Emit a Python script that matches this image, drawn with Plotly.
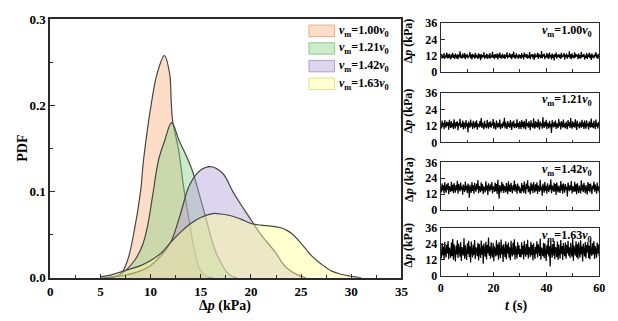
import numpy as np
import plotly.graph_objects as go

# ---------------- data ----------------
series_labels = ["1.00", "1.21", "1.42", "1.63"]

# probability density of pressure difference (kPa)
pdf_x_100 = [6.0, 7.0, 7.7, 8.3, 9.0, 9.3, 10.1, 10.65, 11.37, 11.9, 12.06, 12.2, 12.8, 13.3, 13.9, 14.4, 14.9, 15.5, 16.2]
pdf_y_100 = [0.000, 0.004, 0.020, 0.050, 0.100, 0.137, 0.204, 0.237, 0.258, 0.237, 0.204, 0.182, 0.148, 0.105, 0.063, 0.030, 0.010, 0.002, 0.000]

pdf_x_121 = [5.5, 7.0, 8.4, 9.2, 9.7, 10.2, 10.8, 11.4, 12.1, 12.85, 13.3, 13.8, 14.2, 15.4, 16.5, 17.8, 18.6]
pdf_y_121 = [0.000, 0.004, 0.020, 0.038, 0.060, 0.095, 0.137, 0.159, 0.180, 0.159, 0.148, 0.135, 0.123, 0.074, 0.030, 0.004, 0.000]

pdf_x_142 = [5.0, 7.0, 9.0, 10.0, 11.0, 12.0, 12.9, 13.9, 15.0, 16.0, 17.2, 18.2, 19.0, 19.8, 20.3, 21.0, 22.4, 23.5, 24.7, 25.5]
pdf_y_142 = [0.000, 0.002, 0.008, 0.014, 0.025, 0.041, 0.071, 0.108, 0.125, 0.129, 0.121, 0.100, 0.085, 0.071, 0.062, 0.050, 0.030, 0.012, 0.003, 0.000]

pdf_x_163 = [5.0, 6.0, 7.4, 9.0, 10.0, 11.0, 12.0, 13.0, 14.0, 15.0, 16.2, 17.0, 18.0, 19.0, 20.0, 21.0, 22.0, 23.0, 24.0, 25.0, 26.0, 27.0, 28.0, 29.0, 30.0, 31.0]
pdf_y_163 = [0.001, 0.003, 0.008, 0.014, 0.020, 0.028, 0.041, 0.053, 0.063, 0.070, 0.0745, 0.074, 0.072, 0.068, 0.063, 0.061, 0.060, 0.058, 0.052, 0.040, 0.026, 0.016, 0.008, 0.004, 0.0015, 0.000]

# pressure-difference records (kPa) over 60 s
dp_100 = [11.2, 13.1, 9.8, 12.6, 10.4, 13.8, 9.5, 12.2, 10.9, 14.3, 9.9, 12.8, 10.1, 13.4, 11.0, 9.2, 12.9, 10.6, 14.1, 10.2,
          12.4, 9.6, 13.5, 11.3, 10.0, 13.0, 9.4, 12.7, 10.8, 15.2, 10.3, 12.1, 9.7, 13.6, 11.1, 10.5, 13.9, 9.3, 12.5, 10.7,
          13.2, 9.9, 12.0, 11.4, 14.6, 10.1, 12.8, 9.1, 13.3, 10.9, 12.3, 9.8, 14.0, 10.4, 12.6, 11.2, 9.5, 13.7, 10.6, 12.9,
          8.6, 13.1, 10.2, 12.4, 11.0, 14.4, 9.7, 12.2, 10.5, 13.5, 9.6, 12.7, 11.3, 10.0, 13.8, 9.9, 12.1, 10.8, 14.8, 10.3,
          12.5, 9.4, 13.2, 11.1, 10.6, 13.6, 9.2, 12.9, 10.7, 14.2, 10.1, 12.3, 9.8, 13.4, 11.5, 10.2, 13.0, 9.5, 12.6, 10.9,
          14.5, 9.9, 12.2, 11.2, 13.9, 10.4, 12.8, 9.3, 13.3, 10.8, 15.0, 10.0, 12.4, 9.7, 13.7, 11.0, 12.0, 9.6, 13.1, 10.5,
          12.3, 9.6, 13.9, 10.8, 12.5, 9.1, 14.2, 11.0, 12.9, 10.3, 13.4, 9.8, 12.0, 10.6, 14.7, 9.4, 12.6, 11.3, 13.1, 10.0,
          12.8, 8.9, 13.7, 10.5, 12.2, 11.1, 14.0, 9.5, 13.3, 10.9, 12.4, 9.9, 15.4, 10.2, 12.7, 11.4, 13.5, 9.3, 12.1, 10.7,
          13.8, 10.1, 12.9, 9.6, 14.3, 11.0, 12.3, 9.2, 13.6, 10.4, 12.6, 8.4, 13.2, 10.8, 14.5, 9.7, 12.5, 11.2, 13.0, 10.3,
          12.8, 9.5, 14.1, 10.6, 12.2, 11.5, 13.9, 9.0, 12.7, 10.9, 13.4, 9.8, 12.4, 11.1, 15.1, 10.0, 12.9, 9.4, 13.7, 10.5,
          12.1, 9.9, 14.4, 10.7, 13.1, 11.3, 12.6, 9.3, 13.5, 10.2, 12.3, 9.7, 14.8, 10.8, 12.8, 11.0, 13.3, 9.1, 12.0, 10.4,
          13.8, 9.6, 12.5, 11.2, 14.2, 10.1, 12.9, 8.8, 13.6, 10.6, 12.2, 9.9, 13.0, 11.4, 14.6, 10.3, 12.7, 9.5, 13.2, 10.9]
dp_121 = [13.5, 10.2, 15.8, 11.4, 14.2, 9.6, 16.1, 12.0, 10.8, 15.0, 11.9, 14.6, 9.1, 16.4, 12.3, 10.5, 15.5, 11.0, 13.9, 9.8,
          16.8, 12.6, 10.1, 14.8, 11.7, 15.3, 8.9, 14.1, 12.2, 17.2, 10.6, 13.6, 11.3, 15.9, 9.4, 14.4, 12.8, 10.0, 16.2, 11.5,
          13.8, 7.2, 15.1, 12.1, 10.7, 16.6, 11.8, 14.0, 9.7, 15.6, 12.4, 10.3, 14.9, 11.2, 16.0, 9.2, 13.7, 12.5, 10.9, 15.4,
          11.6, 17.6, 10.4, 14.3, 12.0, 9.5, 15.7, 11.1, 13.4, 10.2, 16.3, 12.7, 9.9, 14.7, 11.4, 15.2, 10.6, 13.9, 12.2, 16.9,
          10.0, 14.5, 11.9, 9.3, 15.8, 12.3, 10.8, 14.2, 11.0, 16.5, 9.6, 13.5, 12.6, 10.4, 15.0, 11.7, 17.9, 10.1, 14.6, 12.1,
          9.8, 15.5, 11.3, 13.8, 10.7, 16.1, 12.4, 9.0, 14.9, 11.6, 15.9, 10.3, 13.6, 12.8, 10.5, 16.7, 11.2, 14.1, 9.7, 15.3,
          12.9, 9.7, 16.3, 11.2, 14.7, 10.1, 15.6, 12.5, 9.4, 16.9, 11.8, 14.0, 10.6, 15.2, 12.2, 8.8, 16.0, 11.5, 13.6, 10.3,
          17.4, 12.0, 9.9, 15.4, 11.3, 14.5, 10.7, 16.7, 12.6, 9.2, 15.1, 11.9, 13.8, 10.0, 18.3, 12.3, 10.5, 14.9, 11.6, 16.4,
          9.5, 14.2, 12.8, 10.2, 15.7, 11.1, 13.5, 6.9, 16.1, 12.4, 10.9, 14.8, 11.4, 15.9, 9.8, 13.9, 12.1, 10.4, 17.0, 11.7,
          14.3, 9.3, 15.5, 12.7, 10.8, 16.6, 11.0, 13.7, 10.1, 15.0, 12.3, 9.6, 16.2, 11.8, 14.6, 10.5, 17.7, 12.0, 9.9, 15.3,
          11.2, 14.1, 10.7, 16.8, 12.5, 9.1, 15.6, 11.6, 13.4, 10.2, 14.9, 12.9, 10.6, 16.4, 11.3, 14.4, 9.7, 15.8, 12.2, 10.0,
          16.0, 11.9, 13.6, 9.4, 15.2, 12.6, 10.8, 17.3, 11.1, 14.0, 10.3, 15.7, 12.4, 9.8, 16.5, 11.5, 13.8, 10.1, 14.7, 12.0]
dp_142 = [17.2, 13.4, 20.1, 14.8, 18.6, 12.5, 21.0, 15.9, 13.1, 19.4, 15.2, 20.6, 12.0, 18.1, 16.4, 13.8, 21.4, 14.5, 19.0, 12.8,
          20.3, 16.0, 13.2, 18.9, 15.0, 22.1, 12.3, 19.7, 16.6, 14.1, 20.8, 15.5, 17.9, 11.6, 19.3, 16.2, 13.6, 21.6, 14.9, 18.4,
          12.9, 20.0, 16.8, 9.4, 19.1, 15.3, 13.0, 21.2, 14.4, 18.7, 12.4, 20.5, 16.1, 13.9, 19.8, 15.7, 22.6, 12.7, 18.2, 16.5,
          13.5, 20.9, 14.6, 19.5, 12.1, 17.8, 16.3, 13.3, 21.8, 15.1, 18.5, 11.2, 20.2, 16.9, 14.0, 19.2, 15.4, 21.1, 12.6, 18.0,
          16.7, 13.7, 20.7, 14.3, 19.6, 12.2, 22.9, 15.8, 8.6, 18.8, 16.0, 13.1, 21.3, 14.7, 19.9, 12.9, 18.3, 16.4, 13.4, 20.4,
          15.6, 12.0, 21.7, 14.2, 19.0, 13.6, 20.6, 16.2, 12.5, 18.6, 15.0, 22.3, 13.8, 19.4, 16.8, 12.3, 20.0, 14.9, 18.1, 13.2,
          16.4, 12.6, 20.4, 14.2, 18.9, 13.0, 21.5, 15.6, 12.2, 19.8, 16.0, 22.4, 13.5, 18.3, 15.1, 11.9, 20.7, 14.7, 19.2, 12.7,
          21.1, 16.5, 13.3, 19.5, 14.4, 20.9, 12.1, 18.6, 16.2, 13.8, 22.8, 15.0, 17.8, 10.9, 19.9, 16.7, 13.1, 21.3, 14.6, 18.2,
          12.4, 20.2, 15.9, 13.6, 19.0, 15.4, 23.2, 12.8, 18.7, 16.3, 13.9, 20.6, 14.1, 19.6, 11.4, 21.0, 16.1, 13.4, 18.4, 15.2,
          12.9, 21.9, 14.8, 19.3, 12.3, 20.1, 16.6, 13.2, 19.7, 15.5, 17.6, 10.2, 20.8, 16.9, 14.3, 18.8, 15.0, 22.0, 12.6, 18.1,
          16.4, 13.7, 21.4, 14.0, 19.4, 12.0, 20.3, 15.7, 13.0, 18.5, 16.2, 12.5, 22.5, 14.9, 19.1, 13.5, 20.5, 16.0, 12.8, 18.9,
          15.3, 11.7, 21.2, 14.5, 19.8, 13.3, 20.0, 16.8, 12.2, 18.3, 15.8, 21.6, 13.9, 19.2, 16.5, 12.4, 20.7, 14.6, 18.0, 13.1]
dp_163 = [19.5, 13.2, 24.8, 15.6, 22.1, 11.9, 25.7, 17.4, 14.0, 23.6, 16.8, 26.2, 12.5, 21.3, 18.9, 13.7, 25.1, 15.0, 27.8, 12.2,
          23.9, 17.9, 10.8, 22.6, 16.1, 26.9, 13.4, 24.2, 19.2, 14.5, 25.5, 11.3, 21.8, 18.0, 15.3, 28.4, 13.0, 23.1, 17.2, 12.0,
          24.6, 16.5, 26.4, 14.2, 22.4, 10.1, 25.9, 18.6, 13.8, 23.4, 15.8, 27.1, 12.7, 21.5, 19.6, 14.8, 25.0, 11.6, 24.0, 17.6,
          13.5, 26.6, 16.0, 22.9, 9.2, 24.4, 18.3, 14.4, 25.8, 12.4, 23.3, 17.0, 28.9, 15.1, 21.9, 12.9, 25.3, 16.7, 13.9, 24.7,
          11.0, 22.2, 19.0, 14.6, 26.8, 15.5, 23.7, 12.1, 25.6, 17.7, 13.3, 27.4, 16.3, 22.8, 10.5, 24.1, 18.4, 14.1, 26.0, 12.6,
          23.5, 16.9, 25.2, 13.6, 21.6, 11.8, 26.5, 17.3, 14.7, 24.9, 15.9, 27.6, 12.3, 22.5, 18.7, 13.1, 25.4, 16.4, 23.0, 14.3,
          20.2, 13.8, 25.3, 16.2, 22.7, 12.4, 26.4, 17.9, 14.5, 24.1, 16.0, 27.3, 13.1, 21.9, 19.4, 14.2, 25.7, 15.6, 23.5, 11.5,
          24.6, 18.2, 12.8, 22.0, 16.7, 26.0, 13.9, 23.8, 19.9, 15.0, 28.2, 12.1, 21.4, 18.5, 14.8, 25.0, 13.3, 24.4, 17.5, 11.2,
          23.0, 16.3, 26.7, 14.7, 22.3, 7.1, 25.5, 18.9, 13.6, 24.0, 15.4, 26.2, 12.6, 21.7, 20.1, 14.0, 25.9, 12.0, 23.6, 17.1,
          13.0, 27.0, 16.6, 22.5, 11.9, 24.8, 18.0, 14.9, 25.2, 12.9, 23.2, 16.9, 26.5, 15.2, 21.6, 13.4, 24.9, 17.4, 14.4, 27.9,
          11.4, 22.8, 19.3, 15.3, 26.1, 14.1, 23.9, 12.5, 25.4, 18.3, 13.7, 26.8, 16.1, 22.1, 10.9, 24.3, 18.7, 14.6, 25.6, 13.2,
          23.3, 17.6, 25.8, 13.5, 22.6, 12.3, 27.2, 17.0, 15.1, 24.5, 16.4, 26.3, 12.7, 22.4, 19.1, 13.6, 25.1, 16.8, 23.7, 14.8]

pdf_tick_vals = [0.0, 0.1, 0.2, 0.3]
dp_tick_vals = [0, 12, 24, 36]
t_tick_vals = [0, 20, 40, 60]

# ---------------- styling ----------------
FONT = "Liberation Serif"
AX = "#2a2a2a"
OUTLINE = "rgba(70,70,70,1)"
fills = ["rgba(250,180,130,0.45)", "rgba(140,210,140,0.45)",
         "rgba(180,160,215,0.45)", "rgba(255,255,150,0.45)"]
swatch_edges = ["rgba(235,175,135,1)", "rgba(150,200,150,1)",
                "rgba(175,160,205,1)", "rgba(225,225,150,1)"]

W, H = 618, 321
def px(x):
    return x / W
def py(y):
    return 1 - y / H

fig = go.Figure()

pdf_sets = [(pdf_x_100, pdf_y_100), (pdf_x_121, pdf_y_121),
            (pdf_x_142, pdf_y_142), (pdf_x_163, pdf_y_163)]
for (xs, ys), fc in zip(pdf_sets, fills):
    fig.add_trace(go.Scatter(x=xs, y=ys, mode="lines", fill="tozeroy",
                             fillcolor=fc, line=dict(color=OUTLINE, width=1.2, shape="spline", smoothing=1.0),
                             showlegend=False, xaxis="x", yaxis="y"))

records = [dp_100, dp_121, dp_142, dp_163]
for i, rec in enumerate(records):
    t = np.linspace(0, 60, len(rec))
    fig.add_trace(go.Scatter(x=t, y=rec, mode="lines",
                             line=dict(color="black", width=1.2, simplify=False),
                             showlegend=False, xaxis=f"x{i+2}", yaxis=f"y{i+2}"))

tickfont = dict(family=FONT, size=13, color="black", weight="bold")
layout = dict(
    width=W, height=H, margin=dict(l=0, r=0, t=0, b=0),
    paper_bgcolor="white", plot_bgcolor="white", showlegend=False,
    font=dict(family=FONT, color="black"),
    xaxis=dict(domain=[px(48), px(405)], range=[0, 35], dtick=5, ticks="inside", ticklen=4,
               tickwidth=1.3, tickcolor=AX, showline=True, linecolor=AX, linewidth=1.5, mirror=True,
               showgrid=False, zeroline=False, tickfont=tickfont, ticklabelstandoff=1,
               minor=dict(dtick=2.5, ticks="inside", ticklen=2.5, tickcolor=AX, tickwidth=1.1, showgrid=False)),
    yaxis=dict(domain=[py(284), py(13)], range=[0, 0.3], tickvals=pdf_tick_vals, tickformat=".1f",
               ticks="inside", ticklen=5, tickwidth=1.3, tickcolor=AX, showline=True, linecolor=AX,
               linewidth=1.5, mirror=True, showgrid=False, zeroline=False, tickfont=tickfont,
               minor=dict(dtick=0.05, ticks="inside", ticklen=3, tickcolor=AX, tickwidth=1.1, showgrid=False)),
)

panel_px = [(17, 68), (90, 142), (163, 213), (232, 282)]
small_font = dict(family=FONT, size=12, color="black", weight="bold")
for i, (top, bot) in enumerate(panel_px):
    k = i + 2
    layout[f"xaxis{k}"] = dict(domain=[px(445), px(606)], range=[0, 60], tickvals=t_tick_vals,
                               ticks="inside", ticklen=4, tickwidth=1.2, tickcolor=AX,
                               showticklabels=(i == 3), ticklabelstandoff=1,
                               tickfont=dict(family=FONT, size=12, color="black", weight="bold"),
                               showline=True, linecolor=AX, linewidth=1.3, mirror=True,
                               showgrid=False, zeroline=False, anchor=f"y{k}",
                               minor=dict(dtick=10, ticks="inside", ticklen=2.5, tickcolor=AX, showgrid=False))
    layout[f"yaxis{k}"] = dict(domain=[py(bot), py(top)], range=[0, 36], tickvals=dp_tick_vals,
                               ticks="inside", ticklen=4, tickwidth=1.2, tickcolor=AX, tickfont=small_font,
                               showline=True, linecolor=AX, linewidth=1.3, mirror=True,
                               showgrid=False, zeroline=False, anchor=f"x{k}")
fig.update_layout(**layout)

ann = []
# axis titles
ann.append(dict(x=px(19), y=py(148), xref="paper", yref="paper", text="<b>PDF</b>", textangle=-90,
                xanchor="center", yanchor="middle", showarrow=False, font=dict(family=FONT, size=14)))
ann.append(dict(x=px(226), y=py(314), xref="paper", yref="paper", text="<b>Δ<i>p</i> (kPa)</b>",
                xanchor="center", yanchor="middle", showarrow=False, font=dict(family=FONT, size=14)))
ann.append(dict(x=px(522), y=py(314), xref="paper", yref="paper", text="<b><i>t</i> (s)</b>",
                xanchor="center", yanchor="middle", showarrow=False, font=dict(family=FONT, size=14)))

for i, ((top, bot), lab) in enumerate(zip(panel_px, series_labels)):
    mid = (top + bot) / 2 - 7
    ann.append(dict(x=px(412), y=py(mid), xref="paper", yref="paper", text="<b>Δ<i>p</i> (kPa)</b>",
                    textangle=-90, xanchor="center", yanchor="middle", showarrow=False,
                    font=dict(family=FONT, size=12)))
    ann.append(dict(x=px(601), y=py(top + 8), xref="paper", yref="paper", xanchor="right", yanchor="middle",
                    text=f"<b><i>v</i><sub>m</sub>={lab}<i>v</i><sub>0</sub></b>",
                    showarrow=False, font=dict(family=FONT, size=12)))

# legend swatches and labels
shapes = []
for i, lab in enumerate(series_labels):
    yc = 25 + 18.5 * i
    shapes.append(dict(type="rect", xref="paper", yref="paper", x0=px(311), x1=px(337),
                       y0=py(yc + 6), y1=py(yc - 6), fillcolor=fills[i],
                       line=dict(color=swatch_edges[i], width=1)))
    ann.append(dict(x=px(340), y=py(yc), xref="paper", yref="paper", xanchor="left", yanchor="middle",
                    text=f"<b><i>v</i><sub>m</sub>={lab}<i>v</i><sub>0</sub></b>",
                    showarrow=False, font=dict(family=FONT, size=12)))

fig.update_layout(annotations=ann, shapes=shapes)
fig.write_html("out.html")
